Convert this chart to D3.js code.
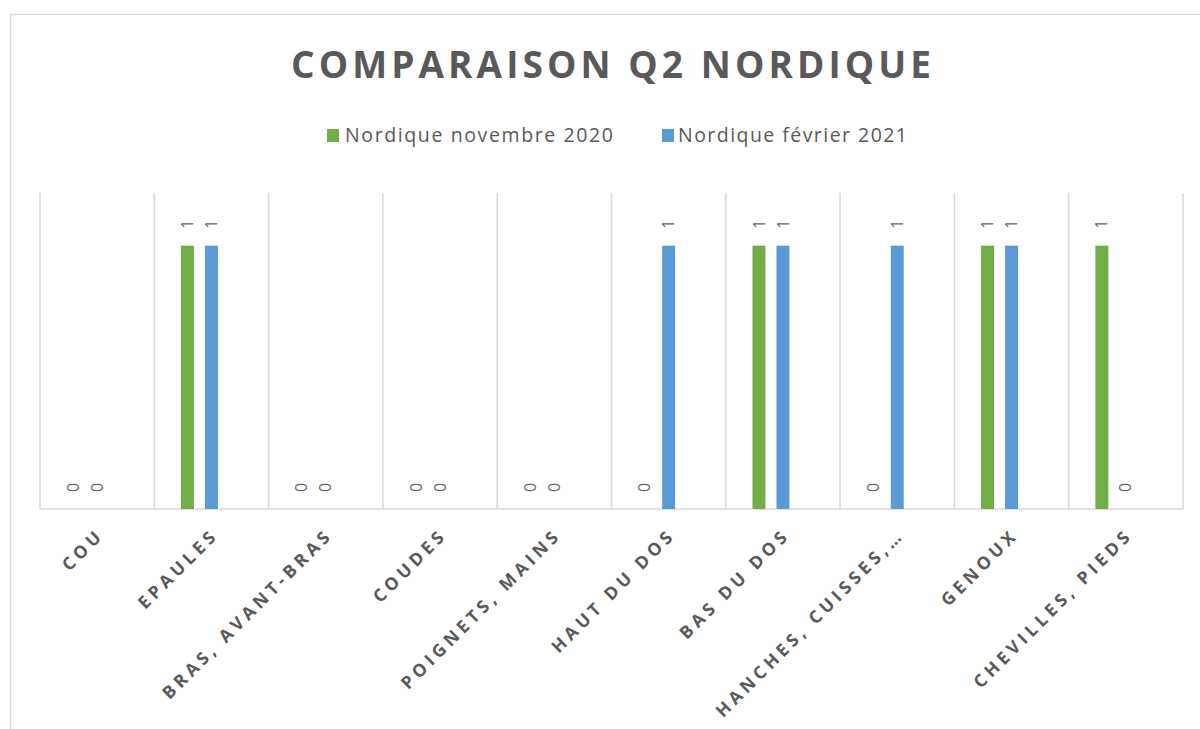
<!DOCTYPE html>
<html>
<head>
	<title>index</title>
	<meta charset="utf-8">
	<script src="https://d3js.org/d3.v7.min.js" charset="utf-8"></script>
	<style>
		body { margin:0; background:#fff; }
		svg { display:block; }
		.grid line { stroke:#d9d9d9; stroke-width:1.5; }
		.xlab { font-family:"Open Sans"; font-weight:700; font-size:17.5px; fill:#595959; letter-spacing:4.2px; }
		.vlab { font-family:"Open Sans"; font-size:16px; fill:#666; }
		.legend text { font-family:"Open Sans"; font-size:19.5px; fill:#595959; }
	</style>
</head>
<body>
<script>

	var categories = ["COU", "EPAULES", "BRAS, AVANT-BRAS", "COUDES", "POIGNETS, MAINS",
		"HAUT DU DOS", "BAS DU DOS", "HANCHES, CUISSES,…", "GENOUX", "CHEVILLES, PIEDS"];
	var seriesNames = ["Nordique novembre 2020", "Nordique février 2021"];
	var nov2020 = [0, 1, 0, 0, 0, 0, 1, 0, 1, 1];
	var fev2021 = [0, 1, 0, 0, 0, 1, 1, 1, 1, 0];
	var colors = ["#70ad47", "#5b9bd5"];
	var yMax = 1.2;

	var width = 1200, height = 729;
	var plot = {left:40, right:1183, top:193, bottom:509};

	var svg = d3.select("body").append("svg").attr("width", width).attr("height", height);

	// outer frame of the chart
	svg.append("rect").attr("x", 10.5).attr("y", 14.5).attr("width", 1220).attr("height", 800)
		.attr("fill", "none").attr("stroke", "#d9d9d9").attr("stroke-width", 1.5);

	var x0 = d3.scaleBand().domain(categories).range([plot.left, plot.right]);
	var bw = x0.bandwidth();
	// three slots per category, the third one is empty in the original
	var x1 = d3.scaleBand().domain([0, 1, 2]).range([bw/2 - 36, bw/2 + 36]).paddingInner(0.46).paddingOuter(0.23);
	var y = d3.scaleLinear().domain([0, yMax]).range([plot.bottom, plot.top]);

	// vertical gridlines on category boundaries
	var bounds = categories.map(function(c) { return x0(c); }).concat([plot.right]);
	var grid = svg.append("g").attr("class", "grid");
	grid.selectAll("line.v").data(bounds).enter().append("line")
		.attr("x1", function(d) { return d; }).attr("x2", function(d) { return d; })
		.attr("y1", plot.top).attr("y2", plot.bottom);
	grid.append("line").attr("x1", plot.left).attr("x2", plot.right)
		.attr("y1", plot.bottom).attr("y2", plot.bottom);

	var rows = [];
	categories.forEach(function(c, i) {
		rows.push({cat:c, s:0, v:nov2020[i]});
		rows.push({cat:c, s:1, v:fev2021[i]});
	});

	svg.selectAll("rect.bar").data(rows).enter().append("rect")
		.attr("class", "bar")
		.attr("x", function(d) { return x0(d.cat) + x1(d.s); })
		.attr("width", x1.bandwidth())
		.attr("y", function(d) { return y(d.v); })
		.attr("height", function(d) { return y(0) - y(d.v); })
		.attr("fill", function(d) { return colors[d.s]; });

	// data labels, rotated
	svg.selectAll("text.vlab").data(rows).enter().append("text")
		.attr("class", "vlab")
		.attr("transform", function(d) {
			var cx = x0(d.cat) + x1(d.s) + x1.bandwidth()/2;
			return "translate(" + cx + "," + (y(d.v) - 17) + ") rotate(-90)";
		})
		.attr("dy", "0.35em")
		.text(function(d) { return d.v; });

	// category labels at -45 degrees
	svg.selectAll("text.xlab").data(categories).enter().append("text")
		.attr("class", "xlab")
		.attr("text-anchor", "end")
		.attr("transform", function(d) {
			var cx = x0(d) + bw/2 + 8;
			return "translate(" + cx + "," + (plot.bottom + 27) + ") rotate(-45)";
		})
		.text(function(d) { return d; });

	// title
	svg.append("text")
		.attr("x", 611).attr("y", 78)
		.attr("text-anchor", "middle")
		.attr("font-family", "Open Sans").attr("font-weight", 700)
		.attr("font-size", 37).attr("fill", "#595959")
		.attr("textLength", 640).attr("lengthAdjust", "spacing")
		.text("COMPARAISON Q2 NORDIQUE");

	// legend
	var legendPos = [{sx:327, tx:345, len:268}, {sx:662, tx:678, len:229}];
	var legend = svg.append("g").attr("class", "legend");
	seriesNames.forEach(function(name, i) {
		legend.append("rect").attr("x", legendPos[i].sx).attr("y", 129)
			.attr("width", 12).attr("height", 13).attr("fill", colors[i]);
		legend.append("text").attr("x", legendPos[i].tx).attr("y", 142)
			.attr("textLength", legendPos[i].len).attr("lengthAdjust", "spacing")
			.text(name);
	});

</script>
</body>
</html>
